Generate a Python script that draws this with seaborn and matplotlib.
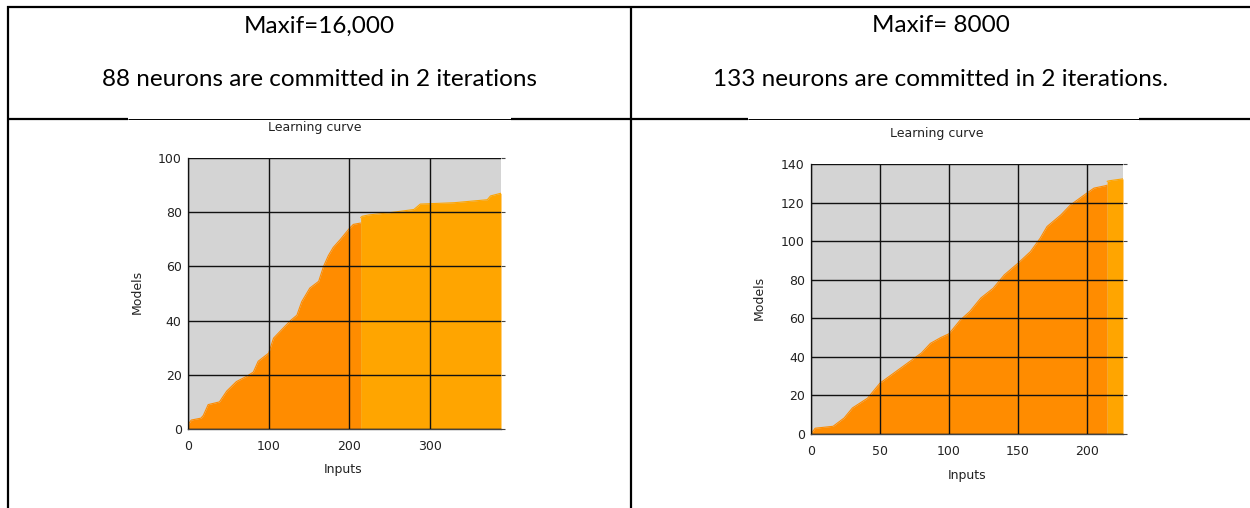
import matplotlib
matplotlib.use("Agg")
import matplotlib.pyplot as plt
import seaborn as sns
from matplotlib.lines import Line2D

# left chart (Maxif=16,000): first iteration, then second iteration
left_it1_x = [0, 1, 4, 16, 19, 25, 39, 48, 60, 73, 81, 87, 100, 106, 114, 127, 135,
              141, 151, 162, 168, 174, 180, 189, 200, 205, 214]
left_it1_y = [0, 2, 3.3, 4, 5, 9, 10, 14, 17.5, 19.5, 21, 25, 28, 33.5, 36, 40, 42,
              47, 52, 54.5, 60, 64, 67, 70, 74, 75.5, 76]
left_it2_x = [214, 216, 224, 247, 280, 288, 330, 371, 375, 388]
left_it2_y = [78, 78.5, 79, 79.7, 81, 83, 83.5, 84.6, 86, 87]

# right chart (Maxif=8000)
right_it1_x = [0, 3, 16, 24, 30, 41, 50, 60, 70, 80, 86.5, 94, 100, 108, 115, 123,
               132, 140, 150, 159, 166, 171, 181, 188, 200, 205, 213, 214.5]
right_it1_y = [0, 3, 4, 8.3, 13.5, 18.6, 26.4, 31.6, 36.8, 42, 47, 50, 52, 59, 63.5,
               70.5, 75.6, 82.5, 88.6, 94.6, 101.5, 107.6, 113.6, 118.8, 125, 127.5,
               128.7, 129]
right_it2_x = [214.5, 216, 226]
right_it2_y = [131, 131.3, 132.3]

headers = ["Maxif=16,000", "Maxif= 8000"]
notes = ["88 neurons are committed in 2 iterations",
         "133 neurons are committed in 2 iterations."]

sns.set_style("white")
plt.rcParams['font.family'] = ['DejaVu Sans']

W, H = 1250, 508
fig = plt.figure(figsize=(W / 100, H / 100), dpi=100)


def px_rect(l, t, r, b):
    return [l / W, 1 - b / H, (r - l) / W, (b - t) / H]


def hline(y, x0, x1, lw):
    fig.add_artist(Line2D([x0 / W, x1 / W], [1 - y / H, 1 - y / H], color='black',
                          lw=lw, transform=fig.transFigure, solid_capstyle='butt'))


def vline(x, y0, y1, lw):
    fig.add_artist(Line2D([x / W, x / W], [1 - y0 / H, 1 - y1 / H], color='black',
                          lw=lw, transform=fig.transFigure, solid_capstyle='butt'))


# table borders
hline(7, 7, 1250, 1.6)
vline(8, 6, 508, 1.6)
vline(631, 6, 508, 1.6)
hline(119, 7, 128, 1.6)
hline(119, 128, 511, 0.7)
hline(119, 511, 748, 1.6)
hline(119, 748, 1139, 0.7)
hline(119, 1139, 1250, 1.6)

# header text
for cx, head, note in [(319.5, headers[0], notes[0]), (941, headers[1], notes[1])]:
    fig.text(cx / W, 1 - 26 / H, head, ha='center', va='center', fontsize=17.5,
             family='Lato', color='black')
    fig.text(cx / W, 1 - 80 / H, note, ha='center', va='center', fontsize=17.5,
             family='Lato', color='black')

dark = '#ff8c00'
light = '#ffa500'


def draw(rect, x1, y1, x2, y2, xmax, ymax, yticks, xticks, title_xy, ylab_xy, xlab_xy):
    ax = fig.add_axes(px_rect(*rect))
    ax.set_facecolor('#d4d4d4')
    sns.lineplot(x=x1, y=y1, ax=ax, color=dark, lw=0.8)
    ax.fill_between(x1, y1, 0, color=dark, lw=0)
    sns.lineplot(x=x2, y=y2, ax=ax, color=light, lw=0.8)
    ax.fill_between(x2, y2, 0, color=light, lw=0)
    ax.set_xlim(0, xmax)
    ax.set_ylim(0, ymax)
    ax.set_xticks(xticks)
    ax.set_yticks(yticks)
    ax.grid(True, color='#111111', lw=1.0)
    ax.set_axisbelow(False)
    for s in ['top', 'right']:
        ax.spines[s].set_visible(False)
    for s in ['left', 'bottom']:
        ax.spines[s].set_color('#444444')
        ax.spines[s].set_linewidth(1.0)
    ax.tick_params(axis='both', direction='out', length=3, width=0.8, color='#444444',
                   labelsize=9, labelcolor='#222222', pad=1.5)
    ax.tick_params(axis='x', pad=5)
    ax.tick_params(axis='y', right=True)
    ax.set_xlabel('')
    ax.set_ylabel('')
    fig.text(title_xy[0] / W, 1 - title_xy[1] / H, 'Learning curve', ha='center',
             va='center', fontsize=9, color='#222222')
    fig.text(ylab_xy[0] / W, 1 - ylab_xy[1] / H, 'Models', ha='center', va='center',
             rotation=90, fontsize=9, color='#222222')
    fig.text(xlab_xy[0] / W, 1 - xlab_xy[1] / H, 'Inputs', ha='center', va='center',
             fontsize=9, color='#222222')
    return ax


draw((188, 158, 501, 429), left_it1_x, left_it1_y, left_it2_x, left_it2_y, 388, 100,
     [0, 20, 40, 60, 80, 100], [0, 100, 200, 300], (315, 128), (137, 292), (343, 470))
draw((811, 164, 1123, 434), right_it1_x, right_it1_y, right_it2_x, right_it2_y, 226, 140,
     [0, 20, 40, 60, 80, 100, 120, 140], [0, 50, 100, 150, 200], (937, 133), (759, 298),
     (967, 475))

fig.savefig('out.png', dpi=100)
